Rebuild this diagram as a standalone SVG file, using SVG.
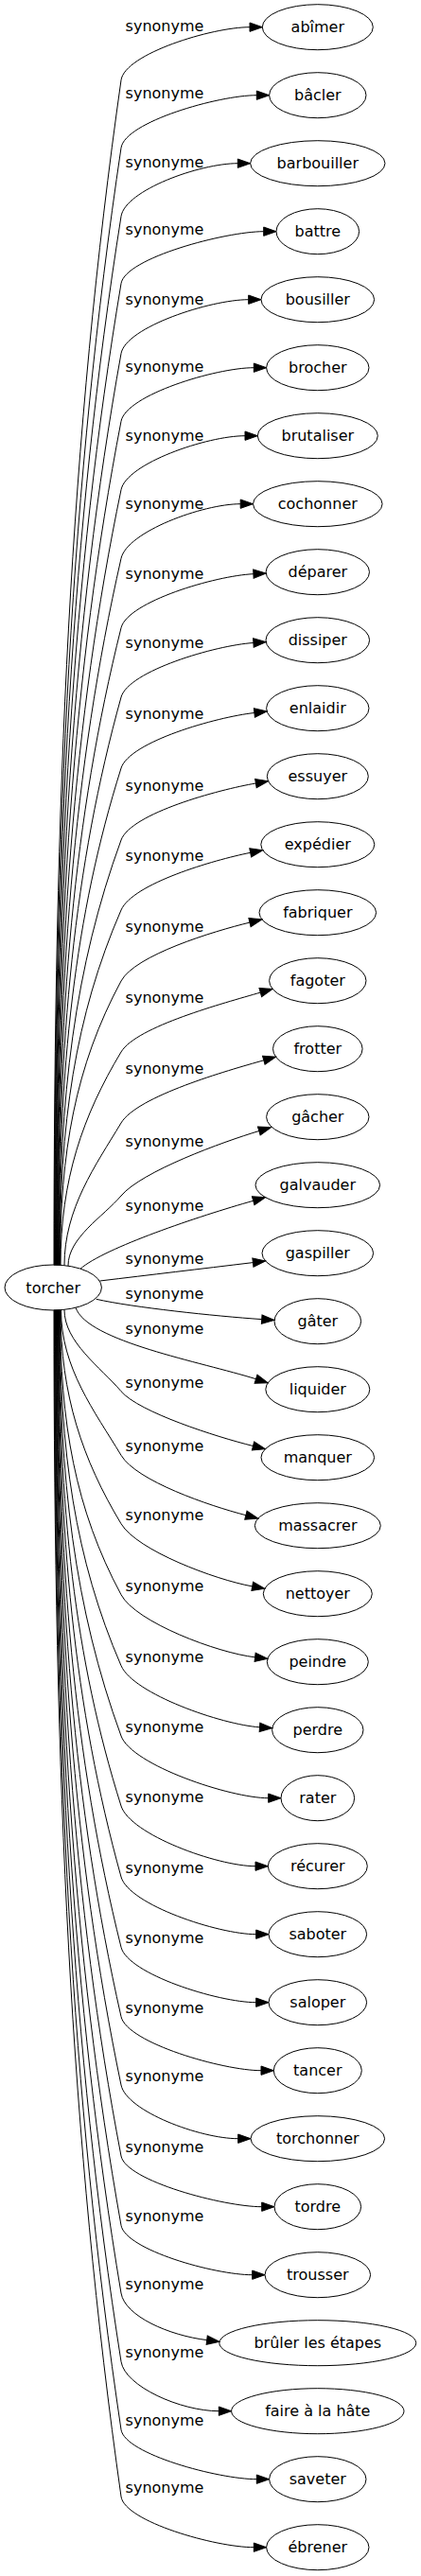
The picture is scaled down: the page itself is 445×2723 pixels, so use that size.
<svg xmlns="http://www.w3.org/2000/svg" width="445" height="2723" viewBox="0 0 445 2723">
<style>
.n ellipse{fill:none;stroke:#000;stroke-width:1}
text{font-family:"DejaVu Sans","Liberation Sans",sans-serif;font-size:16px;fill:#000;text-anchor:middle}
.e path{fill:none;stroke:#000;stroke-width:1;marker-end:url(#ah)}
</style>
<defs>
<marker id="ah" viewBox="0 -5 14 10" refX="0" refY="0" markerWidth="14" markerHeight="10" markerUnits="userSpaceOnUse" orient="auto" overflow="visible"><path d="M0,-4.67L13.3,0L0,4.67Z" fill="#000" stroke="#000" stroke-width="1"/></marker>
</defs>
<rect width="445" height="2723" fill="#fff"/>
<g id="edges" class="e">
<path d="M57,1337.4 C57,836.3 74.6,460.5 128,84.7 C131.9,57 224,28.7 264,28.7"/>
<path d="M57.5,1337.4 C57.5,865 75.2,510.6 128,156.3 C132.1,128.8 231.3,100.7 271.3,100.7"/>
<path d="M58,1337.4 C58,893.9 75.4,561.3 128,228.7 C132.4,201 211.3,172.7 251.3,172.7"/>
<path d="M58.5,1337.4 C58.5,922.3 76,611 128,299.7 C132.5,272.6 238.7,244.7 278.7,244.7"/>
<path d="M59,1337.4 C59,951.9 76.2,662.8 128,373.7 C133,345.7 222.7,316.7 262.7,316.7"/>
<path d="M59.5,1337.4 C59.5,980.6 76.6,712.9 128,445.3 C133.3,417.5 228.3,388.7 268.3,388.7"/>
<path d="M60,1337.4 C60,1009.5 77.1,763.6 128,517.7 C133.8,489.8 219,460.7 259,460.7"/>
<path d="M60.5,1337.4 C60.5,1038.6 77.3,814.4 128,590.3 C134.3,562.2 214.2,532.7 254.2,532.7"/>
<path d="M61,1337.4 C61,1067.9 77.7,865.8 128,663.7 C134.9,636 227.9,608.5 267.9,606.7"/>
<path d="M61.5,1337.4 C61.5,1097.2 78.1,917.1 128,737 C135.7,709.2 228,682.1 267.9,679.5"/>
<path d="M62,1337.4 C62,1127.2 78.5,969.6 128,812 C136.8,784 229.1,757.9 268.9,753.5"/>
<path d="M62.5,1337.4 C62.5,1157.6 78.9,1022.8 128,888 C138.3,859.8 231,834.7 270.4,828"/>
<path d="M63,1337.4 C63,1187.2 79.2,1074.6 128,962 C140.1,934.1 225.5,909.1 264.7,901.3"/>
<path d="M63.5,1337.4 C63.5,1217.2 79.6,1127.1 128,1037 C142.7,1009.7 225.1,984.5 264,975.1"/>
<path d="M64,1337.4 C64,1247.2 87.4,1179.6 128,1112 C144.2,1085 236.9,1060.3 275.3,1049.1"/>
<path d="M68,1337.6 C68,1277.4 100.9,1232.2 128,1187 C145,1158.7 240.3,1131.6 278.8,1120.8"/>
<path d="M72,1338 C72,1308.2 109.1,1286.2 128,1264 C150,1238.1 235.5,1207 273.8,1195.5"/>
<path d="M85,1341.2 C110,1319.2 210.1,1285.5 267.7,1269.3"/>
<path d="M105.5,1354 C160,1347.5 210,1341.5 267.4,1334.6"/>
<path d="M101.7,1373.3 C140,1382 226.8,1391.2 276.7,1394.6"/>
<path d="M80,1382.2 C92,1418 213.2,1439.7 270.5,1457.7"/>
<path d="M68,1384.4 C68,1418.9 106,1444.8 128,1470.7 C146.7,1492.7 228.7,1518.9 267.5,1528.5"/>
<path d="M64.5,1384.6 C64.5,1446.1 100.3,1492.2 128,1538.3 C144.3,1565.5 221.2,1591.7 259.9,1601.7"/>
<path d="M64,1384.7 C64,1475.1 87.3,1542.9 128,1610.7 C145,1639 227.3,1669.8 266.7,1676.9"/>
<path d="M63.5,1384.7 C63.5,1505.1 79.6,1595.4 128,1685.7 C143.6,1714.8 229.9,1747.3 269.6,1751.8"/>
<path d="M63,1384.7 C63,1535.1 79.3,1647.9 128,1760.7 C140.9,1790.6 234.6,1823.1 274.5,1825.8"/>
<path d="M62.5,1384.7 C62.5,1564.8 78.8,1699.9 128,1835 C139.3,1865.9 243.7,1900.7 283.7,1900.7"/>
<path d="M62,1384.7 C62,1594.4 78.5,1751.7 128,1909 C137.6,1939.4 230,1972.7 270,1972.7"/>
<path d="M61.5,1384.7 C61.5,1624.4 78.2,1804.2 128,1984 C136.1,2013.3 230.7,2044.7 270.7,2044.7"/>
<path d="M61,1384.7 C61,1654.1 77.7,1856.2 128,2058.3 C135.1,2086.7 230.7,2116.7 270.7,2116.7"/>
<path d="M60.5,1384.7 C60.5,1683.5 77.4,1907.6 128,2131.7 C134.3,2159.5 236,2188.7 276,2188.7"/>
<path d="M60,1384.7 C60,1712.4 77.1,1958.2 128,2204 C133.8,2231.8 211.7,2260.7 251.7,2260.7"/>
<path d="M59.5,1384.7 C59.5,1742.4 76.8,2010.7 128,2279 C133.1,2305.4 236.7,2332.7 276.7,2332.7"/>
<path d="M59,1384.7 C59,1771.7 76.3,2062 128,2352.3 C132.6,2378.1 226.7,2404.7 266.7,2404.7"/>
<path d="M58.5,1384.7 C58.5,1800.4 75.9,2112.2 128,2424 C132.1,2448.5 179,2468.8 218.7,2473.6"/>
<path d="M58,1384.7 C58,1829.3 75.6,2162.8 128,2496.3 C132,2522.7 191.3,2548.7 231.3,2548.7"/>
<path d="M57.5,1384.7 C57.5,1858.1 75.1,2213.2 128,2568.3 C131.9,2594.2 231.3,2620.7 271.3,2620.7"/>
<path d="M57,1384.7 C57,1886.4 74.8,2262.7 128,2639 C131.8,2665.6 228.3,2692.7 268.3,2692.7"/>
<text x="174" y="32.7">synonyme</text>
<text x="174" y="104.3">synonyme</text>
<text x="174" y="176.7">synonyme</text>
<text x="174" y="247.7">synonyme</text>
<text x="174" y="321.7">synonyme</text>
<text x="174" y="393.3">synonyme</text>
<text x="174" y="465.7">synonyme</text>
<text x="174" y="538.3">synonyme</text>
<text x="174" y="611.7">synonyme</text>
<text x="174" y="685">synonyme</text>
<text x="174" y="760">synonyme</text>
<text x="174" y="836">synonyme</text>
<text x="174" y="910">synonyme</text>
<text x="174" y="985">synonyme</text>
<text x="174" y="1060">synonyme</text>
<text x="174" y="1135">synonyme</text>
<text x="174" y="1212">synonyme</text>
<text x="174" y="1280">synonyme</text>
<text x="174" y="1336">synonyme</text>
<text x="174" y="1373.3">synonyme</text>
<text x="174" y="1410">synonyme</text>
<text x="174" y="1466.7">synonyme</text>
<text x="174" y="1534.3">synonyme</text>
<text x="174" y="1606.7">synonyme</text>
<text x="174" y="1681.7">synonyme</text>
<text x="174" y="1756.7">synonyme</text>
<text x="174" y="1831">synonyme</text>
<text x="174" y="1905">synonyme</text>
<text x="174" y="1980">synonyme</text>
<text x="174" y="2054.3">synonyme</text>
<text x="174" y="2127.7">synonyme</text>
<text x="174" y="2200">synonyme</text>
<text x="174" y="2275">synonyme</text>
<text x="174" y="2348.3">synonyme</text>
<text x="174" y="2420">synonyme</text>
<text x="174" y="2492.3">synonyme</text>
<text x="174" y="2564.3">synonyme</text>
<text x="174" y="2635">synonyme</text>
</g>
<g id="node-torcher" class="n"><ellipse cx="56.2" cy="1361" rx="51.2" ry="24"/><text x="56.2" y="1366.5">torcher</text></g>
<g id="node-abimer" class="n"><ellipse cx="335.8" cy="28.7" rx="58.5" ry="24"/><text x="335.8" y="34.2">abîmer</text></g>
<g id="node-bacler" class="n"><ellipse cx="335.8" cy="100.7" rx="51.2" ry="24"/><text x="335.8" y="106.2">bâcler</text></g>
<g id="node-barbouiller" class="n"><ellipse cx="335.8" cy="172.7" rx="71.2" ry="24"/><text x="335.8" y="178.2">barbouiller</text></g>
<g id="node-battre" class="n"><ellipse cx="335.8" cy="244.7" rx="43.8" ry="24"/><text x="335.8" y="250.2">battre</text></g>
<g id="node-bousiller" class="n"><ellipse cx="335.8" cy="316.7" rx="59.8" ry="24"/><text x="335.8" y="322.2">bousiller</text></g>
<g id="node-brocher" class="n"><ellipse cx="335.8" cy="388.7" rx="54.2" ry="24"/><text x="335.8" y="394.2">brocher</text></g>
<g id="node-brutaliser" class="n"><ellipse cx="335.8" cy="460.7" rx="63.5" ry="24"/><text x="335.8" y="466.2">brutaliser</text></g>
<g id="node-cochonner" class="n"><ellipse cx="335.8" cy="532.7" rx="68.3" ry="24"/><text x="335.8" y="538.2">cochonner</text></g>
<g id="node-deparer" class="n"><ellipse cx="335.8" cy="604.7" rx="54.7" ry="24"/><text x="335.8" y="610.2">déparer</text></g>
<g id="node-dissiper" class="n"><ellipse cx="335.8" cy="676.7" rx="54.8" ry="24"/><text x="335.8" y="682.2">dissiper</text></g>
<g id="node-enlaidir" class="n"><ellipse cx="335.8" cy="748.7" rx="54.2" ry="24"/><text x="335.8" y="754.2">enlaidir</text></g>
<g id="node-essuyer" class="n"><ellipse cx="335.8" cy="820.7" rx="53.5" ry="24"/><text x="335.8" y="826.2">essuyer</text></g>
<g id="node-expedier" class="n"><ellipse cx="335.8" cy="892.7" rx="60" ry="24"/><text x="335.8" y="898.2">expédier</text></g>
<g id="node-fabriquer" class="n"><ellipse cx="335.8" cy="964.7" rx="61.8" ry="24"/><text x="335.8" y="970.2">fabriquer</text></g>
<g id="node-fagoter" class="n"><ellipse cx="335.8" cy="1036.7" rx="51.2" ry="24"/><text x="335.8" y="1042.2">fagoter</text></g>
<g id="node-frotter" class="n"><ellipse cx="335.8" cy="1108.7" rx="47.3" ry="24"/><text x="335.8" y="1114.2">frotter</text></g>
<g id="node-gacher" class="n"><ellipse cx="335.8" cy="1180.7" rx="54.2" ry="24"/><text x="335.8" y="1186.2">gâcher</text></g>
<g id="node-galvauder" class="n"><ellipse cx="335.8" cy="1252.7" rx="65.8" ry="24"/><text x="335.8" y="1258.2">galvauder</text></g>
<g id="node-gaspiller" class="n"><ellipse cx="335.8" cy="1324.7" rx="58.8" ry="24"/><text x="335.8" y="1330.2">gaspiller</text></g>
<g id="node-gater" class="n"><ellipse cx="335.8" cy="1396.7" rx="45.8" ry="24"/><text x="335.8" y="1402.2">gâter</text></g>
<g id="node-liquider" class="n"><ellipse cx="335.8" cy="1468.7" rx="55" ry="24"/><text x="335.8" y="1474.2">liquider</text></g>
<g id="node-manquer" class="n"><ellipse cx="335.8" cy="1540.7" rx="59.8" ry="24"/><text x="335.8" y="1546.2">manquer</text></g>
<g id="node-massacrer" class="n"><ellipse cx="335.8" cy="1612.7" rx="66.5" ry="24"/><text x="335.8" y="1618.2">massacrer</text></g>
<g id="node-nettoyer" class="n"><ellipse cx="335.8" cy="1684.7" rx="57.5" ry="24"/><text x="335.8" y="1690.2">nettoyer</text></g>
<g id="node-peindre" class="n"><ellipse cx="335.8" cy="1756.7" rx="53.5" ry="24"/><text x="335.8" y="1762.2">peindre</text></g>
<g id="node-perdre" class="n"><ellipse cx="335.8" cy="1828.7" rx="48.2" ry="24"/><text x="335.8" y="1834.2">perdre</text></g>
<g id="node-rater" class="n"><ellipse cx="335.8" cy="1900.7" rx="38.8" ry="24"/><text x="335.8" y="1906.2">rater</text></g>
<g id="node-recurer" class="n"><ellipse cx="335.8" cy="1972.7" rx="52.5" ry="24"/><text x="335.8" y="1978.2">récurer</text></g>
<g id="node-saboter" class="n"><ellipse cx="335.8" cy="2044.7" rx="51.8" ry="24"/><text x="335.8" y="2050.2">saboter</text></g>
<g id="node-saloper" class="n"><ellipse cx="335.8" cy="2116.7" rx="51.8" ry="24"/><text x="335.8" y="2122.2">saloper</text></g>
<g id="node-tancer" class="n"><ellipse cx="335.8" cy="2188.7" rx="46.5" ry="24"/><text x="335.8" y="2194.2">tancer</text></g>
<g id="node-torchonner" class="n"><ellipse cx="335.8" cy="2260.7" rx="70.8" ry="24"/><text x="335.8" y="2266.2">torchonner</text></g>
<g id="node-tordre" class="n"><ellipse cx="335.8" cy="2332.7" rx="45.8" ry="24"/><text x="335.8" y="2338.2">tordre</text></g>
<g id="node-trousser" class="n"><ellipse cx="335.8" cy="2404.7" rx="55.8" ry="24"/><text x="335.8" y="2410.2">trousser</text></g>
<g id="node-bruler-les-etapes" class="n"><ellipse cx="335.8" cy="2476.7" rx="104" ry="24"/><text x="335.8" y="2482.2">brûler les étapes</text></g>
<g id="node-faire-a-la-hate" class="n"><ellipse cx="335.8" cy="2548.7" rx="91.2" ry="24"/><text x="335.8" y="2554.2">faire à la hâte</text></g>
<g id="node-saveter" class="n"><ellipse cx="335.8" cy="2620.7" rx="51.2" ry="24"/><text x="335.8" y="2626.2">saveter</text></g>
<g id="node-ebrener" class="n"><ellipse cx="335.8" cy="2692.7" rx="54.2" ry="24"/><text x="335.8" y="2698.2">ébrener</text></g>
</svg>
